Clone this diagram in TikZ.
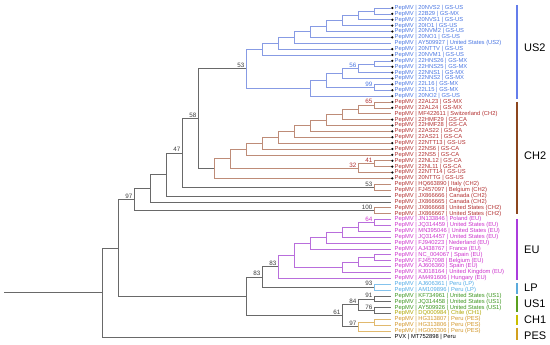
\documentclass[tikz,border=0pt]{standalone}
\usepackage{fontspec}
\setmainfont{Liberation Sans}
\usetikzlibrary{positioning, calc}

\definecolor{backbone}{RGB}{105,105,105}
\definecolor{bootgray}{RGB}{60,60,60}
\definecolor{ustext}{RGB}{74,118,226}
\definecolor{usbranch}{RGB}{135,155,228}
\definecolor{usbar}{RGB}{100,125,235}
\definecolor{chtext}{RGB}{178,48,48}
\definecolor{chbranch}{RGB}{190,140,120}
\definecolor{chbar}{RGB}{140,70,30}
\definecolor{eutext}{RGB}{204,51,204}
\definecolor{eubranch}{RGB}{185,110,220}
\definecolor{eubar}{RGB}{170,60,220}
\definecolor{lptext}{RGB}{80,170,230}
\definecolor{lpbar}{RGB}{90,170,220}
\definecolor{usonetext}{RGB}{60,150,30}
\definecolor{usonebar}{RGB}{90,160,30}
\definecolor{chonetext}{RGB}{175,165,0}
\definecolor{chonebar}{RGB}{200,190,0}
\definecolor{pestext}{RGB}{210,150,40}
\definecolor{pesbranch}{RGB}{225,185,110}
\definecolor{pesbar}{RGB}{210,160,30}

\tikzset{
  leaflabel/.style={anchor=west, inner sep=0pt, font=\fontsize{5.8}{6}\selectfont},
  gsdot/.style={circle, fill=black, inner sep=0pt, minimum size=2.4pt},
  boot/.style={anchor=south east, inner sep=0pt, font=\fontsize{6.3}{7}\selectfont},
  % Branch colours
  branch/.style={line width=0.6pt},
  bb/.style={branch, draw=backbone},
  usbr/.style={branch, draw=usbranch},
  chbr/.style={branch, draw=chbranch},
  eubr/.style={branch, draw=eubranch},
  lpbr/.style={branch, draw=lptext!70},
  usonebr/.style={branch, draw=backbone},
  pesbr/.style={branch, draw=pesbranch},
  % Clade bars
  cladebar/.style={line width=1.3pt},
  cladename/.style={anchor=west, inner sep=0pt, font=\fontsize{11}{12}\selectfont},
}

\newcommand{\tipleaf}[4]{% name, y, colour, text
  \coordinate (#1) at (391,#2);
  \node[leaflabel, text=#3] (#1lab) at (394.5,#2) {PepMV | #4};
}
\newcommand{\gsleaf}[4]{%
  \tipleaf{#1}{#2}{#3}{#4}
  \node[gsdot] (#1dot) at (392.3,#2) {};
}
\newcommand{\bootval}[3][bootgray]{%
  \node[boot, text=#1] (bs#2) at ($(#2)+(-1.5,-0.8)$) {#3};
}

\begin{document}
\begin{tikzpicture}[x=1pt, y=-1pt]
  \useasboundingbox (0,0) rectangle (550,345);

  %% -- Leaves --
  \gsleaf{t1}{8}{ustext}{20NVS2 | GS-US}
  \gsleaf{t2}{13.875}{ustext}{22B29 | GS-MX}
  \gsleaf{t3}{19.75}{ustext}{20NVS1 | GS-US}
  \gsleaf{t4}{25.625}{ustext}{20IO1 | GS-US}
  \gsleaf{t5}{31.5}{ustext}{20NVM2 | GS-US}
  \gsleaf{t6}{37.375}{ustext}{20NO1 | GS-US}
  \tipleaf{t7}{43.25}{ustext}{AY509927 | United States (US2)}
  \gsleaf{t8}{49.125}{ustext}{20NTTV | GS-US}
  \gsleaf{t9}{55}{ustext}{20NVM1 | GS-US}
  \gsleaf{t10}{60.875}{ustext}{22HNS26 | GS-MX}
  \gsleaf{t11}{66.75}{ustext}{22HNS25 | GS-MX}
  \gsleaf{t12}{72.625}{ustext}{22NNS1 | GS-MX}
  \gsleaf{t13}{78.5}{ustext}{22NNS2 | GS-MX}
  \gsleaf{t14}{84.375}{ustext}{22L16 | GS-MX}
  \gsleaf{t15}{90.25}{ustext}{22L15 | GS-MX}
  \gsleaf{t16}{96.125}{ustext}{20NO2 | GS-US}

  \gsleaf{t17}{102}{chtext}{22AL23 | GS-MX}
  \gsleaf{t18}{107.875}{chtext}{22AL24 | GS-MX}
  \tipleaf{t19}{113.75}{chtext}{MF422611 | Switzerland (CH2)}
  \gsleaf{t20}{119.625}{chtext}{22HMF29 | GS-CA}
  \gsleaf{t21}{125.5}{chtext}{22HMF28 | GS-CA}
  \gsleaf{t22}{131.375}{chtext}{22AS22 | GS-CA}
  \gsleaf{t23}{137.25}{chtext}{22AS21 | GS-CA}
  \gsleaf{t24}{143.125}{chtext}{22NTT13 | GS-US}
  \gsleaf{t25}{149}{chtext}{22NS6 | GS-CA}
  \gsleaf{t26}{154.875}{chtext}{22NS5 | GS-CA}
  \gsleaf{t27}{160.75}{chtext}{22NL12 | GS-CA}
  \gsleaf{t28}{166.625}{chtext}{22NL11 | GS-CA}
  \gsleaf{t29}{172.5}{chtext}{22NTT14 | GS-US}
  \gsleaf{t30}{178.375}{chtext}{20NTTG | GS-US}
  \tipleaf{t31}{184.25}{chtext}{HQ663890 | Italy (CH2)}
  \tipleaf{t32}{190.125}{chtext}{FJ457097 | Belgium (CH2)}
  \tipleaf{t33}{196}{chtext}{JX866666 | Canada (CH2)}
  \tipleaf{t34}{201.875}{chtext}{JX866665 | Canada (CH2)}
  \tipleaf{t35}{207.75}{chtext}{JX866668 | United States (CH2)}
  \tipleaf{t36}{213.625}{chtext}{JX866667 | United States (CH2)}

  \tipleaf{t37}{219.5}{eutext}{JN133846 | Poland (EU)}
  \tipleaf{t38}{225.375}{eutext}{JQ314459 | United States (EU)}
  \tipleaf{t39}{231.25}{eutext}{MN395046 | United States (EU)}
  \tipleaf{t40}{237.125}{eutext}{JQ314457 | United States (EU)}
  \tipleaf{t41}{243}{eutext}{FJ940223 | Nederland (EU)}
  \tipleaf{t42}{248.875}{eutext}{AJ438767 | France (EU)}
  \tipleaf{t43}{254.75}{eutext}{NC\_004067 | Spain (EU)}
  \tipleaf{t44}{260.625}{eutext}{FJ457098 | Belgium (EU)}
  \tipleaf{t45}{266.5}{eutext}{AJ606360 | Spain (EU)}
  \tipleaf{t46}{272.375}{eutext}{KJ018164 | United Kingdom (EU)}
  \tipleaf{t47}{278.25}{eutext}{AM491606 | Hungary (EU)}

  \tipleaf{t48}{284.125}{lptext}{AJ606361 | Peru (LP)}
  \tipleaf{t49}{290}{lptext}{AM109896 | Peru (LP)}
  \tipleaf{t50}{295.875}{usonetext}{KF734961 | United States (US1)}
  \tipleaf{t51}{301.75}{usonetext}{JQ314458 | United States (US1)}
  \tipleaf{t52}{307.625}{usonetext}{AY509926 | United States (US1)}
  \tipleaf{t53}{313.5}{chonetext}{DQ000984 | Chile (CH1)}
  \tipleaf{t54}{319.375}{pestext}{HG313807 | Peru (PES)}
  \tipleaf{t55}{325.25}{pestext}{HG313806 | Peru (PES)}
  \tipleaf{t56}{331.125}{pestext}{HG003306 | Peru (PES)}
  \coordinate (t57) at (391,337);
  \node[leaflabel] (t57lab) at (394.5,337) {PVX | MT752898 | Peru};

  %% -- Internal nodes (x = 390 - 16 * height) --
  % US2
  \coordinate (u1) at (374,10.94);
  \coordinate (u2) at (358,15.34);
  \coordinate (u3) at (342,20.48);
  \coordinate (u4) at (326,25.99);
  \coordinate (u5) at (310,31.68);
  \coordinate (u6) at (294,37.47);
  \coordinate (u7) at (278,43.30);
  \coordinate (u8) at (262,49.15);
  \coordinate (l1) at (374,63.81);
  \coordinate (l2) at (358,68.22);
  \coordinate (l3) at (342,73.36);
  \coordinate (l99) at (374,87.31);
  \coordinate (l4) at (326,80.34);
  \coordinate (l5) at (310,88.23);
  \coordinate (us2) at (246,68.69);
  % CH2
  \coordinate (c1) at (374,104.94);
  \coordinate (c2) at (358,109.34);
  \coordinate (c3) at (342,114.48);
  \coordinate (c4) at (326,119.99);
  \coordinate (c5) at (310,125.68);
  \coordinate (c6) at (294,131.47);
  \coordinate (c7) at (278,137.30);
  \coordinate (c8) at (262,143.15);
  \coordinate (c9) at (246,149.01);
  \coordinate (c41) at (374,163.69);
  \coordinate (c32) at (358,168.09);
  \coordinate (c10) at (230,158.55);
  \coordinate (ch2) at (214,168.46);
  \coordinate (c53) at (374,187.19);
  \coordinate (c100) at (374,210.69);
  % backbone
  \coordinate (n58) at (198,118.58);
  \coordinate (n47) at (182,152.88);
  \coordinate (n14) at (166,174.44);
  \coordinate (n15) at (150,188.16);
  \coordinate (n97) at (134,199.42);
  % EU
  \coordinate (e1) at (374,222.44);
  \coordinate (e2) at (358,226.84);
  \coordinate (e3) at (342,231.98);
  \coordinate (e4) at (326,237.49);
  \coordinate (e5) at (310,243.18);
  \coordinate (f1) at (374,257.69);
  \coordinate (f2) at (358,262.09);
  \coordinate (f3) at (342,267.23);
  \coordinate (e6) at (294,255.21);
  \coordinate (eu) at (278,266.73);
  % LP, US1, CH1, PES
  \coordinate (lp) at (374,287.06);
  \coordinate (n83) at (262,276.90);
  \coordinate (g91) at (374,298.81);
  \coordinate (g76) at (374,310.56);
  \coordinate (g84) at (358,304.69);
  \coordinate (p1) at (374,322.31);
  \coordinate (p97) at (358,326.72);
  \coordinate (g61) at (342,315.70);
  \coordinate (n9) at (246,296.30);
  \coordinate (n17) at (118,247.86);
  \coordinate (root) at (102,292.43);
  \coordinate (stem) at (4,292.43);

  %% -- Branches --
  % US2
  \draw[usbr] (u1) |- (t1) (u1) |- (t2);
  \draw[usbr] (u2) |- (u1) (u2) |- (t3);
  \draw[usbr] (u3) |- (u2) (u3) |- (t4);
  \draw[usbr] (u4) |- (u3) (u4) |- (t5);
  \draw[usbr] (u5) |- (u4) (u5) |- (t6);
  \draw[usbr] (u6) |- (u5) (u6) |- (t7);
  \draw[usbr] (u7) |- (u6) (u7) |- (t8);
  \draw[usbr] (u8) |- (u7) (u8) |- (t9);
  \draw[usbr] (l1) |- (t10) (l1) |- (t11);
  \draw[usbr] (l2) |- (l1) (l2) |- (t12);
  \draw[usbr] (l3) |- (l2) (l3) |- (t13);
  \draw[usbr] (l99) |- (t14) (l99) |- (t15);
  \draw[usbr] (l4) |- (l3) (l4) |- (l99);
  \draw[usbr] (l5) |- (l4) (l5) |- (t16);
  \draw[usbr] (us2) |- (u8) (us2) |- (l5);
  % CH2
  \draw[chbr] (c1) |- (t17) (c1) |- (t18);
  \draw[chbr] (c2) |- (c1) (c2) |- (t19);
  \draw[chbr] (c3) |- (c2) (c3) |- (t20);
  \draw[chbr] (c4) |- (c3) (c4) |- (t21);
  \draw[chbr] (c5) |- (c4) (c5) |- (t22);
  \draw[chbr] (c6) |- (c5) (c6) |- (t23);
  \draw[chbr] (c7) |- (c6) (c7) |- (t24);
  \draw[chbr] (c8) |- (c7) (c8) |- (t25);
  \draw[chbr] (c9) |- (c8) (c9) |- (t26);
  \draw[chbr] (c41) |- (t27) (c41) |- (t28);
  \draw[chbr] (c32) |- (c41) (c32) |- (t29);
  \draw[chbr] (c10) |- (c9) (c10) |- (c32);
  \draw[chbr] (ch2) |- (c10) (ch2) |- (t30);
  \draw[chbr] (c53) |- (t31) (c53) |- (t32);
  \draw[chbr] (c100) |- (t35) (c100) |- (t36);
  % backbone
  \draw[bb] (n58) |- (us2) (n58) |- (ch2);
  \draw[bb] (n47) |- (n58) (n47) |- (c53);
  \draw[bb] (n14) |- (n47) (n14) |- (t33);
  \draw[bb] (n15) |- (n14) (n15) |- (t34);
  \draw[bb] (n97) |- (n15) (n97) |- (c100);
  % EU
  \draw[eubr] (e1) |- (t37) (e1) |- (t38);
  \draw[eubr] (e2) |- (e1) (e2) |- (t39);
  \draw[eubr] (e3) |- (e2) (e3) |- (t40);
  \draw[eubr] (e4) |- (e3) (e4) |- (t41);
  \draw[eubr] (e5) |- (e4) (e5) |- (t42);
  \draw[eubr] (f1) |- (t43) (f1) |- (t44);
  \draw[eubr] (f2) |- (f1) (f2) |- (t45);
  \draw[eubr] (f3) |- (f2) (f3) |- (t46);
  \draw[eubr] (e6) |- (e5) (e6) |- (f3);
  \draw[eubr] (eu) |- (e6) (eu) |- (t47);
  % LP, US1, CH1, PES
  \draw[lpbr] (lp) |- (t48) (lp) |- (t49);
  \draw[bb] (n83) |- (eu) (n83) |- (lp);
  \draw[usonebr] (g91) |- (t50) (g91) |- (t51);
  \draw[usonebr] (g76) |- (t52) (g76) |- (t53);
  \draw[bb] (g84) |- (g91) (g84) |- (g76);
  \draw[pesbr] (p1) |- (t54) (p1) |- (t55);
  \draw[pesbr] (p97) |- (p1) (p97) |- (t56);
  \draw[bb] (g61) |- (g84) (g61) |- (p97);
  \draw[bb] (n9) |- (n83) (n9) |- (g61);
  \draw[bb] (n17) |- (n97) (n17) |- (n9);
  \draw[bb] (root) |- (n17) (root) |- (t57);
  \draw[bb] (stem) -- (root);

  %% -- Bootstrap values --
  \bootval{us2}{53}
  \bootval[ustext]{l2}{56}
  \bootval[ustext]{l99}{99}
  \bootval[chtext]{c1}{65}
  \bootval[chtext]{c41}{41}
  \bootval[chtext]{c32}{32}
  \bootval{n58}{58}
  \bootval{n47}{47}
  \bootval{c53}{53}
  \bootval{n97}{97}
  \bootval{c100}{100}
  \bootval[eutext]{e1}{64}
  \bootval{eu}{83}
  \bootval{n83}{83}
  \bootval{lp}{93}
  \bootval{g91}{91}
  \bootval{g84}{84}
  \bootval{g76}{76}
  \bootval{g61}{61}
  \bootval{p97}{97}

  %% -- Clade bars --
  \coordinate (barUSa) at (517,5);     \coordinate (barUSb) at (517,99);
  \coordinate (barCHa) at (517,102);   \coordinate (barCHb) at (517,214);
  \coordinate (barEUa) at (517,219);   \coordinate (barEUb) at (517,280);
  \coordinate (barLPa) at (517,283);   \coordinate (barLPb) at (517,293.5);
  \coordinate (barUOa) at (517,296);   \coordinate (barUOb) at (517,312);
  \coordinate (barCOa) at (517,314.5); \coordinate (barCOb) at (517,325);
  \coordinate (barPEa) at (517,327.5); \coordinate (barPEb) at (517,340);
  \draw[cladebar, usbar] (barUSa) -- (barUSb);
  \draw[cladebar, chbar] (barCHa) -- (barCHb);
  \draw[cladebar, eubar] (barEUa) -- (barEUb);
  \draw[cladebar, lpbar] (barLPa) -- (barLPb);
  \draw[cladebar, usonebar] (barUOa) -- (barUOb);
  \draw[cladebar, chonebar] (barCOa) -- (barCOb);
  \draw[cladebar, pesbar] (barPEa) -- (barPEb);
  \node[cladename] (cUS2) at (524,48) {US2};
  \node[cladename] (cCH2) at (524,156) {CH2};
  \node[cladename] (cEU) at (524,250) {EU};
  \node[cladename] (cLP) at (524,288) {LP};
  \node[cladename] (cUS1) at (524,304) {US1};
  \node[cladename] (cCH1) at (524,320) {CH1};
  \node[cladename] (cPES) at (524,335.5) {PES};

\end{tikzpicture}
\end{document}
